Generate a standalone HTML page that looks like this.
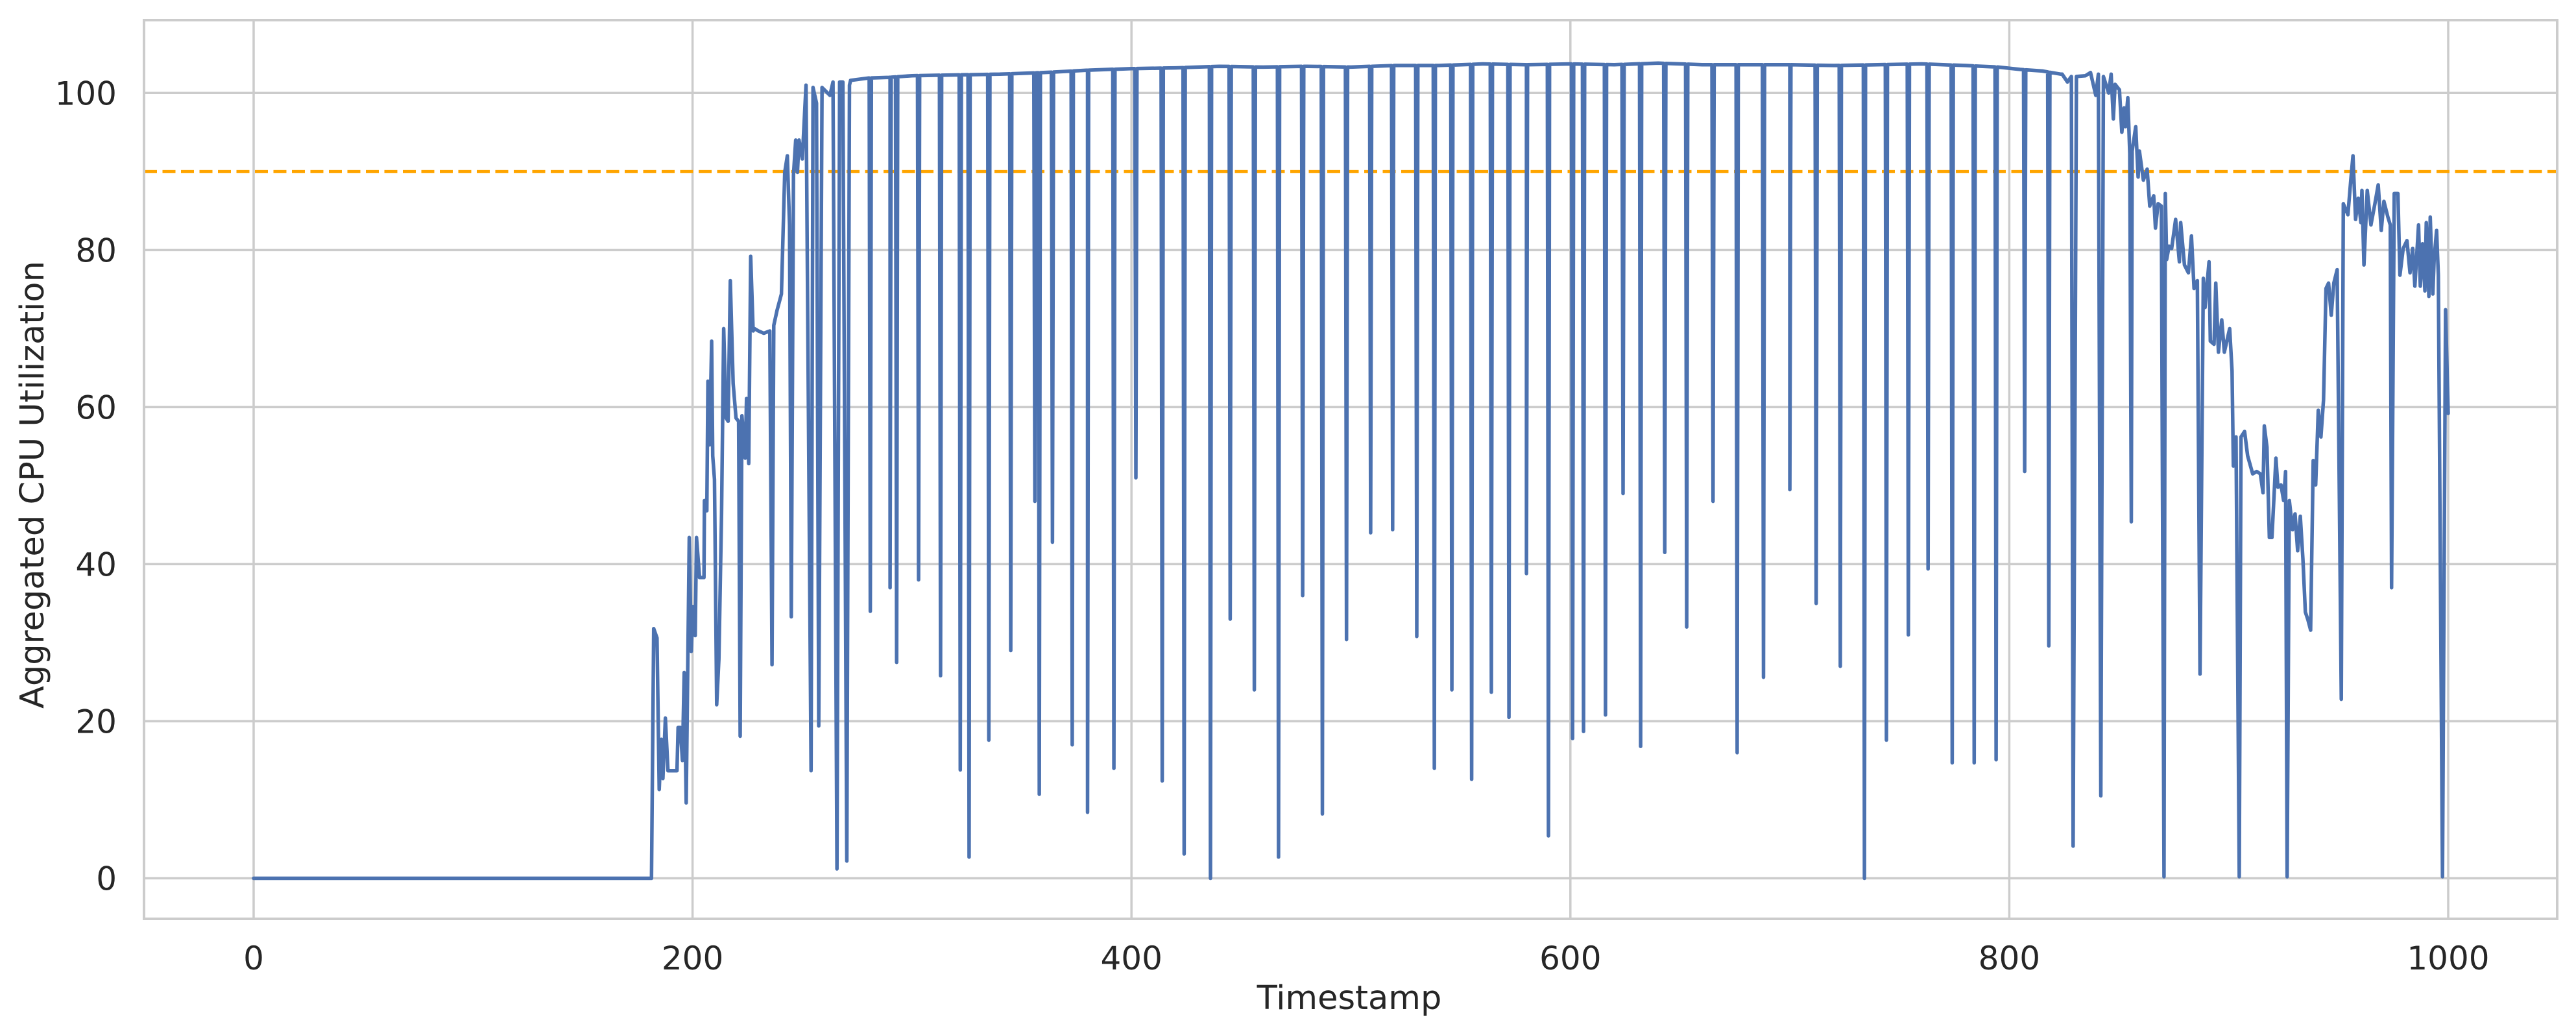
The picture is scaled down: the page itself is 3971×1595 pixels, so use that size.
<!DOCTYPE html>
<html><head><meta charset="utf-8"><style>
html,body{margin:0;padding:0;background:#fff;}
svg{display:block;font-family:"DejaVu Sans","Liberation Sans",sans-serif;}
</style></head><body>
<svg id="chart" width="3971" height="1595" viewBox="0 0 3971 1595" xmlns="http://www.w3.org/2000/svg">
<rect x="0" y="0" width="3971" height="1595" fill="#fff"/>
<g id="grid"></g>
<g id="ticks"></g>
<g id="series"></g>
<rect x="222" y="31" width="3720" height="1385" fill="none" stroke="#cccccc" stroke-width="4"/>
<text x="2080" y="1555" font-size="51" fill="#262626" text-anchor="middle">Timestamp</text>
<text x="67" y="747" font-size="51" fill="#262626" text-anchor="middle" transform="rotate(-90 67 747)">Aggregated CPU Utilization</text>
</svg>
<script>
const xTicks = [0, 200, 400, 600, 800, 1000];
const yTicks = [0, 20, 40, 60, 80, 100];
const threshold = 90;
const traceT = [0,181.3,182.3,183.8,184.8,185.8,186.5,187.6,188.8,192.9,193.4,194.4,195.4,196.2,197.1,198.5,199.4,200.2,201.2,201.8,203.2,205.2,205.4,206.5,207,207.8,208.7,209.2,210,211,212,213.2,214.2,215.3,216.2,217.2,218.5,219.8,221,221.7,222.5,224,224.6,225.6,226.5,227.6,228.2,230,232.5,235.2,236.2,237,238.5,240.5,242,243.2,244.2,245,246,247,247.8,248.5,250,251.7,254,254.9,256.5,257.5,259,262.6,264,265.8,267,268.5,270.3,271.5,
824.1,826.5,828.3,829.1,830.6,834.7,837,839.4,840.6,841.7,842.9,845.3,846.4,847.4,848.2,850.2,851.3,852.3,852.9,854,854.9,855.6,856,857.6,858.7,859.3,861.1,862.8,864,865.8,866.6,867.8,869.3,870.5,871.1,871.7,872.8,874,875.8,877.5,878.1,879.8,881.6,883,884.2,885.7,886.9,888.4,889.2,891,891.6,893.3,894.1,895.3,896.8,898,900.4,901.5,902.1,903.3,904.8,905.6,907.2,908.6,910.9,912.7,914.4,915.6,916.2,917.4,918.5,919.7,921.5,922.4,923.8,925,925.9,926.6,927.6,929.1,930.2,931.4,932.6,933.8,934.9,936.1,937.3,938.5,939.6,940.8,942,943.2,944.3,945.5,946.7,947.9,949.4,951.3,952.2,954.3,955.5,956.6,957.8,959,960.2,960.7,961.6,963.1,964.8,966.6,968.1,969.5,970.7,972.5,973.6,974.2,975.4,977.1,978,979.5,981.2,982.6,983.8,984.8,986.5,987.3,988.3,989.4,990,991.2,991.8,993,993.6,994.7,995.5,997.4,998.8,1000];
const traceV = [0,0,31.8,30.6,11.3,17.7,12.7,20.4,13.7,13.7,19.2,19.2,15,26.2,9.6,43.4,28.9,34.6,30.9,43.4,38.3,38.3,48.1,46.8,63.3,55.2,68.4,53.8,50.8,22.1,27.9,46.4,70,58.6,58.2,76.1,63,58.6,58.2,18.1,58.9,53.5,61.1,52.8,79.2,69.7,70,69.7,69.4,69.7,27.2,70.4,72.3,74.4,89.9,92,83.2,33.3,89.6,94,89.9,94,91.6,101,13.7,100.7,98.7,19.4,100.7,99.7,101.4,1.2,101.4,101.4,2.2,101,
102.4,101.4,102.1,4.1,102.1,102.2,102.6,99.7,102.4,10.5,102.1,100,102.4,96.7,101.1,100.4,95,98.1,95.7,99.4,92.3,45.4,92.6,95.7,89.3,92.6,88.9,90.3,85.6,86.9,82.8,85.9,85.6,0.2,87.2,78.8,80.5,80.2,83.9,78.5,83.5,78.1,77.1,81.8,75.1,76.1,26,76.4,72.7,78.5,68.4,68,75.8,67,71.1,67,70,64.6,52.5,56.2,0.2,56.2,56.9,53.8,51.5,51.8,51.5,49.1,57.6,54.9,43.4,43.4,53.5,49.8,50.1,48.1,51.8,0.2,48.1,44.4,46.4,41.7,46.1,40.7,33.9,32.9,31.6,53.2,50.1,59.6,56.2,60.9,75.1,75.8,71.7,75.8,77.5,22.8,85.9,84.5,88.6,92,83.9,86.6,83.5,87.6,78.1,87.6,83.2,85.9,88.3,82.5,86.2,84.2,83.2,37,87.2,87.2,76.8,80.2,81.2,77.1,80.2,75.4,83.2,75.4,80.8,74.8,83.5,74.1,84.2,74.4,78.8,82.5,76.8,0.2,72.4,59.2];
const plateauT = [272,280,290,300,320,340,360,380,400,420,440,460,480,500,520,540,560,580,600,620,640,660,680,700,720,740,760,780,795,805,815,823.5];
const plateauV = [101.6,101.9,102.0,102.2,102.3,102.4,102.6,102.9,103.1,103.2,103.4,103.3,103.4,103.3,103.5,103.5,103.7,103.6,103.7,103.6,103.8,103.6,103.6,103.6,103.5,103.6,103.7,103.5,103.3,103.0,102.8,102.4];
const dipT = [281,290,293,303,313,322,326,335,345,356,358,364,373,380,392,402,414,424,436,445,456,467,478,487,498,509,519,530,538,546,555,564,572,580,590,601,606,616,624,632,643,653,665,676,688,700,712,723,734,744,754,763,774,784,794,807,818];
const dipV = [34,37,27.5,38,25.8,13.8,2.7,17.6,29,48,10.7,42.8,17,8.4,14,51,12.4,3.1,0,33,24,2.7,36,8.2,30.4,44,44.4,30.8,14,24,12.6,23.7,20.5,38.8,5.4,17.8,18.7,20.8,49,16.8,41.5,32,48,16,25.6,49.5,35,27,0,17.6,31,39.4,14.7,14.7,15.1,51.8,29.6];

const NS = 'http://www.w3.org/2000/svg';
const X0 = 391, X1 = 3774, Y0 = 1353.5, Y100 = 143.3;
function xs(t){ return X0 + (X1 - X0) * t / 1000; }
function ys(v){ return Y0 + (Y100 - Y0) * v / 100; }
function mk(tag, attrs){ const e = document.createElementNS(NS, tag); for (const k in attrs) e.setAttribute(k, attrs[k]); return e; }
function plat(t){
  for (let i = 0; i < plateauT.length - 1; i++) {
    if (t >= plateauT[i] && t <= plateauT[i+1]) {
      const f = (t - plateauT[i]) / (plateauT[i+1] - plateauT[i]);
      return plateauV[i] + f * (plateauV[i+1] - plateauV[i]);
    }
  }
  return plateauV[plateauV.length - 1];
}
const grid = document.getElementById('grid');
const ticks = document.getElementById('ticks');
xTicks.forEach(t => {
  const l = mk('line', {x1: xs(t), x2: xs(t), y1: 31, y2: 1416, stroke: '#cccccc', 'stroke-width': 3.5});
  
  
  grid.appendChild(l);
  const tx = mk('text', {x: xs(t), y: 1494, 'font-size': 50, fill: '#262626', 'text-anchor': 'middle'});
  
  
  tx.textContent = String(t);
  ticks.appendChild(tx);
});
yTicks.forEach(v => {
  const l = mk('line', {x1: 222, x2: 3942, y1: ys(v), y2: ys(v), stroke: '#cccccc', 'stroke-width': 3.5});
  
  
  grid.appendChild(l);
  const tx = mk('text', {x: 180, y: ys(v) + 18, 'font-size': 50, fill: '#262626', 'text-anchor': 'end'});
  
  
  tx.textContent = String(v);
  ticks.appendChild(tx);
});
let pts = [];
for (let i = 0; i < traceT.length; i++) pts.push([traceT[i], traceV[i]]);
for (let i = 0; i < plateauT.length; i++) pts.push([plateauT[i], plateauV[i]]);
for (let i = 0; i < dipT.length; i++) {
  pts.push([dipT[i] - 0.5, plat(dipT[i] - 0.5)]);
  pts.push([dipT[i], dipV[i]]);
  pts.push([dipT[i] + 0.5, plat(dipT[i] + 0.5)]);
}
pts.sort((a, b) => a[0] - b[0]);
const series = document.getElementById('series');
const thr = mk('line', {x1: 222, x2: 3942, y1: ys(threshold), y2: ys(threshold), stroke: '#ffa500', 'stroke-width': 5, 'stroke-dasharray': '20 8.5'});


series.appendChild(thr);
const path = mk('path', {d: pts.map((p, i) => (i ? 'L' : 'M') + xs(p[0]).toFixed(1) + ' ' + ys(p[1]).toFixed(1)).join(' '), fill: 'none', stroke: '#4c72b0', 'stroke-width': 5.5, 'stroke-linejoin': 'round', 'stroke-linecap': 'round'});


series.appendChild(path);
</script>
</body></html>
